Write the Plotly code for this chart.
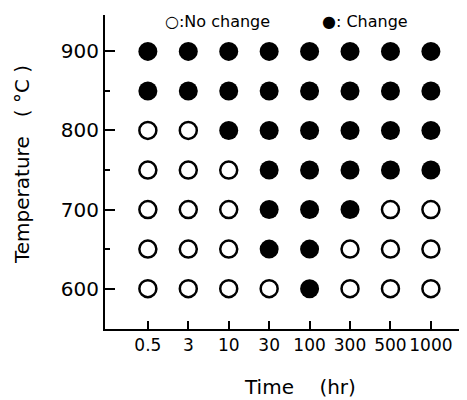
import plotly.graph_objects as go

times = ["0.5", "3", "10", "30", "100", "300", "500", "1000"]
temps = [900, 850, 800, 750, 700, 650, 600]
# 1 = change (filled), 0 = no change (open)
status = [
    [1, 1, 1, 1, 1, 1, 1, 1],
    [1, 1, 1, 1, 1, 1, 1, 1],
    [0, 0, 1, 1, 1, 1, 1, 1],
    [0, 0, 0, 1, 1, 1, 1, 1],
    [0, 0, 0, 1, 1, 1, 0, 0],
    [0, 0, 0, 1, 1, 0, 0, 0],
    [0, 0, 0, 0, 1, 0, 0, 0],
]

fx, fy, ox, oy = [], [], [], []
for i, t in enumerate(temps):
    for j, s in enumerate(status[i]):
        if s:
            fx.append(j); fy.append(t)
        else:
            ox.append(j); oy.append(t)

fig = go.Figure()
fig.add_trace(go.Scatter(x=fx, y=fy, mode="markers",
                         marker=dict(size=19, color="black", line=dict(width=0)),
                         showlegend=False))
fig.add_trace(go.Scatter(x=ox, y=oy, mode="markers",
                         marker=dict(size=17, color="white", symbol="circle",
                                     line=dict(width=2.5, color="black")),
                         showlegend=False))

font = "DejaVu Sans"
W, H = 459, 392
L, R, T, B = 97, 7, 7, 71
pw, ph = W - L - R, H - T - B

def px(xp):  # page x -> paper x
    return (xp - 8 - L) / pw

def py(yp):  # page y -> paper y
    return 1 - (yp - 8 - T) / ph

fig.update_layout(
    width=W, height=H,
    margin=dict(l=L, r=R, t=T, b=B),
    plot_bgcolor="white", paper_bgcolor="white",
    font=dict(family=font, color="black"),
    xaxis=dict(range=[-1.06, 7.72], tickvals=list(range(len(times))), ticktext=times,
               showline=True, linecolor="black", linewidth=2, ticks="inside",
               ticklen=8, tickwidth=1.5, tickcolor="black", showgrid=False, zeroline=False,
               tickfont=dict(size=17, family=font)),
    yaxis=dict(range=[549, 946], tick0=600, dtick=100,
               showline=True, linecolor="black", linewidth=2, ticks="inside",
               ticklen=10, tickwidth=1.5, tickcolor="black", showgrid=False, zeroline=False,
               tickfont=dict(size=20, family=font),
               minor=dict(ticks="inside", tick0=650, dtick=100, ticklen=5, tickcolor="black", tickwidth=1.5)),
)
fig.add_annotation(x=px(22), y=py(165), xref="paper", yref="paper", xanchor="center", yanchor="middle",
                   text="Temperature   ( °C )", textangle=-90, showarrow=False,
                   font=dict(size=20, family=font))
fig.add_annotation(x=px(300), y=py(387), xref="paper", yref="paper", xanchor="center", yanchor="middle",
                   text="Time    (hr)", showarrow=False, font=dict(size=20, family=font))
fig.add_annotation(x=px(163), y=py(22), xref="paper", yref="paper", xanchor="left", yanchor="middle",
                   text="○:No change", showarrow=False, font=dict(size=16, family=font))
fig.add_annotation(x=px(320), y=py(22), xref="paper", yref="paper", xanchor="left", yanchor="middle",
                   text="●: Change", showarrow=False, font=dict(size=16, family=font))

fig.write_html("out.html")
